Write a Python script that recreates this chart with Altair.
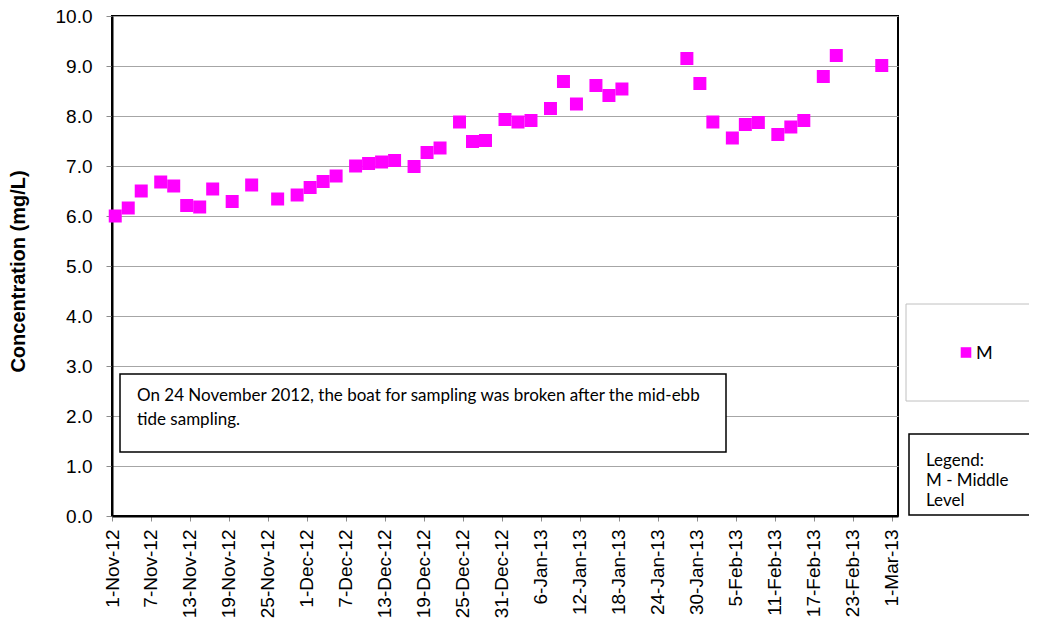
import altair as alt
import pandas as pd

# ---- data ----
dates = [
    "2012-11-01", "2012-11-03", "2012-11-05", "2012-11-08", "2012-11-10", "2012-11-12",
    "2012-11-14", "2012-11-16", "2012-11-19", "2012-11-22", "2012-11-26", "2012-11-29",
    "2012-12-01", "2012-12-03", "2012-12-05", "2012-12-08", "2012-12-10", "2012-12-12",
    "2012-12-14", "2012-12-17", "2012-12-19", "2012-12-21", "2012-12-24", "2012-12-26",
    "2012-12-28", "2012-12-31", "2013-01-02", "2013-01-04", "2013-01-07", "2013-01-09",
    "2013-01-11", "2013-01-14", "2013-01-16", "2013-01-18", "2013-01-28", "2013-01-30",
    "2013-02-01", "2013-02-04", "2013-02-06", "2013-02-08", "2013-02-11", "2013-02-13",
    "2013-02-15", "2013-02-18", "2013-02-20", "2013-02-27",
]
values_m = [
    6.00, 6.16, 6.50, 6.68, 6.60, 6.21,
    6.18, 6.54, 6.29, 6.62, 6.34, 6.42,
    6.57, 6.69, 6.80, 7.00, 7.05, 7.08,
    7.11, 6.99, 7.27, 7.36, 7.88, 7.49,
    7.51, 7.93, 7.88, 7.91, 8.15, 8.69,
    8.24, 8.61, 8.41, 8.54, 9.15, 8.65,
    7.88, 7.56, 7.83, 7.87, 7.63, 7.78,
    7.91, 8.79, 9.21, 9.01,
]
tick_dates = [
    "2012-11-01", "2012-11-07", "2012-11-13", "2012-11-19", "2012-11-25", "2012-12-01",
    "2012-12-07", "2012-12-13", "2012-12-19", "2012-12-25", "2012-12-31", "2013-01-06",
    "2013-01-12", "2013-01-18", "2013-01-24", "2013-01-30", "2013-02-05", "2013-02-11",
    "2013-02-17", "2013-02-23", "2013-03-01",
]
y_ticks = [0, 1, 2, 3, 4, 5, 6, 7, 8, 9, 10]
x_domain = ["2012-11-01", "2013-03-02"]
series_name = "M"
note_lines = [
    "On 24 November 2012, the boat for sampling was broken after the mid-ebb",
    "tide sampling.",
]
legend_note = ["Legend:", "M - Middle", "Level"]
y_title = "Concentration (mg/L)"


def dt(s):
    y, m, d = (int(p) for p in s.split("-"))
    return alt.DateTime(year=y, month=m, date=d, utc=True)


# Excel date axis places each point in the middle of its day
df = pd.DataFrame({
    "date": [d + "T12:00:00Z" for d in dates],
    "value": values_m,
    "series": [series_name] * len(dates),
})

W, H = 786, 500
PINK = "#FF00FF"

x_enc = alt.X(
    "date:T",
    scale=alt.Scale(type="utc", domain=[dt(x_domain[0]), dt(x_domain[1])], nice=False),
    axis=alt.Axis(
        values=[dt(t) for t in tick_dates],
        labelExpr="utcFormat(datum.value, '%-d-%b-%y')",
        labelAngle=-90,
        labelFont="Liberation Sans",
        labelFontSize=19,
        labelColor="black",
        labelPadding=8,
        labelOverlap=False,
        labelFlush=False,
        tickSize=5,
        tickColor="#8c8c8c",
        tickWidth=1,
        domainColor="black",
        domainWidth=2,
        grid=False,
        title=None,
    ),
)
y_enc = alt.Y(
    "value:Q",
    scale=alt.Scale(domain=[0, 10], nice=False, zero=True),
    axis=alt.Axis(
        values=y_ticks,
        format=".1f",
        labelFont="Liberation Sans",
        labelFontSize=19,
        labelColor="black",
        labelPadding=14,
        labelOverlap=False,
        tickSize=6,
        tickColor="#8c8c8c",
        tickWidth=1,
        domainColor="black",
        domainWidth=2,
        grid=True,
        gridColor="#a6a6a6",
        gridWidth=1,
        title=y_title,
        titleFont="Liberation Sans",
        titleFontSize=20,
        titleFontWeight="bold",
        titleColor="black",
        titleAngle=-90,
        titleAlign="center",
        titleBaseline="middle",
        titleX=-94,
        titleY=255,
    ),
)

points = alt.Chart(df).mark_square(size=169, color=PINK, opacity=1).encode(
    x=x_enc, y=y_enc
)

one = pd.DataFrame({"k": [0]})

note_box = alt.Chart(one).mark_rect(
    fill="white", stroke="black", strokeWidth=1.5
).encode(
    x=alt.value(8), x2=alt.value(614), y=alt.value(358), y2=alt.value(436)
)
note_text = alt.Chart(one).mark_text(
    align="left", baseline="alphabetic", font="Lato", fontSize=17,
    lineHeight=24, color="black"
).encode(
    x=alt.value(25), y=alt.value(385), text=alt.value(note_lines)
)

leg_box = alt.Chart(one).mark_rect(
    fill="white", stroke="#c0c0c0", strokeWidth=1
).encode(
    x=alt.value(794), x2=alt.value(960), y=alt.value(288), y2=alt.value(385)
)
leg_marker = alt.Chart(one).mark_square(size=112, color=PINK, opacity=1).encode(
    x=alt.value(854), y=alt.value(336.5)
)
leg_label = alt.Chart(one).mark_text(
    align="left", baseline="alphabetic", font="Lato", fontSize=18, color="black"
).encode(
    x=alt.value(864), y=alt.value(343), text=alt.value(series_name)
)

leg2_box = alt.Chart(one).mark_rect(
    fill="white", stroke="black", strokeWidth=1.5
).encode(
    x=alt.value(797), x2=alt.value(960), y=alt.value(418), y2=alt.value(499)
)
leg2_text = alt.Chart(one).mark_text(
    align="left", baseline="alphabetic", font="Lato", fontSize=17,
    lineHeight=20, color="black"
).encode(
    x=alt.value(814), y=alt.value(450), text=alt.value(legend_note)
)

chart = alt.layer(
    points, note_box, note_text, leg_box, leg_marker, leg_label, leg2_box, leg2_text
).properties(
    width=W,
    height=H,
    autosize=alt.AutoSizeParams(type="none"),
    padding={"left": 104, "top": 8, "right": 1021 - 104 - W, "bottom": 611 - 8 - H},
    background="white",
).configure_view(
    stroke="black", strokeWidth=2
)

chart.save("out.html", embed_options={"renderer": "svg", "actions": False})
